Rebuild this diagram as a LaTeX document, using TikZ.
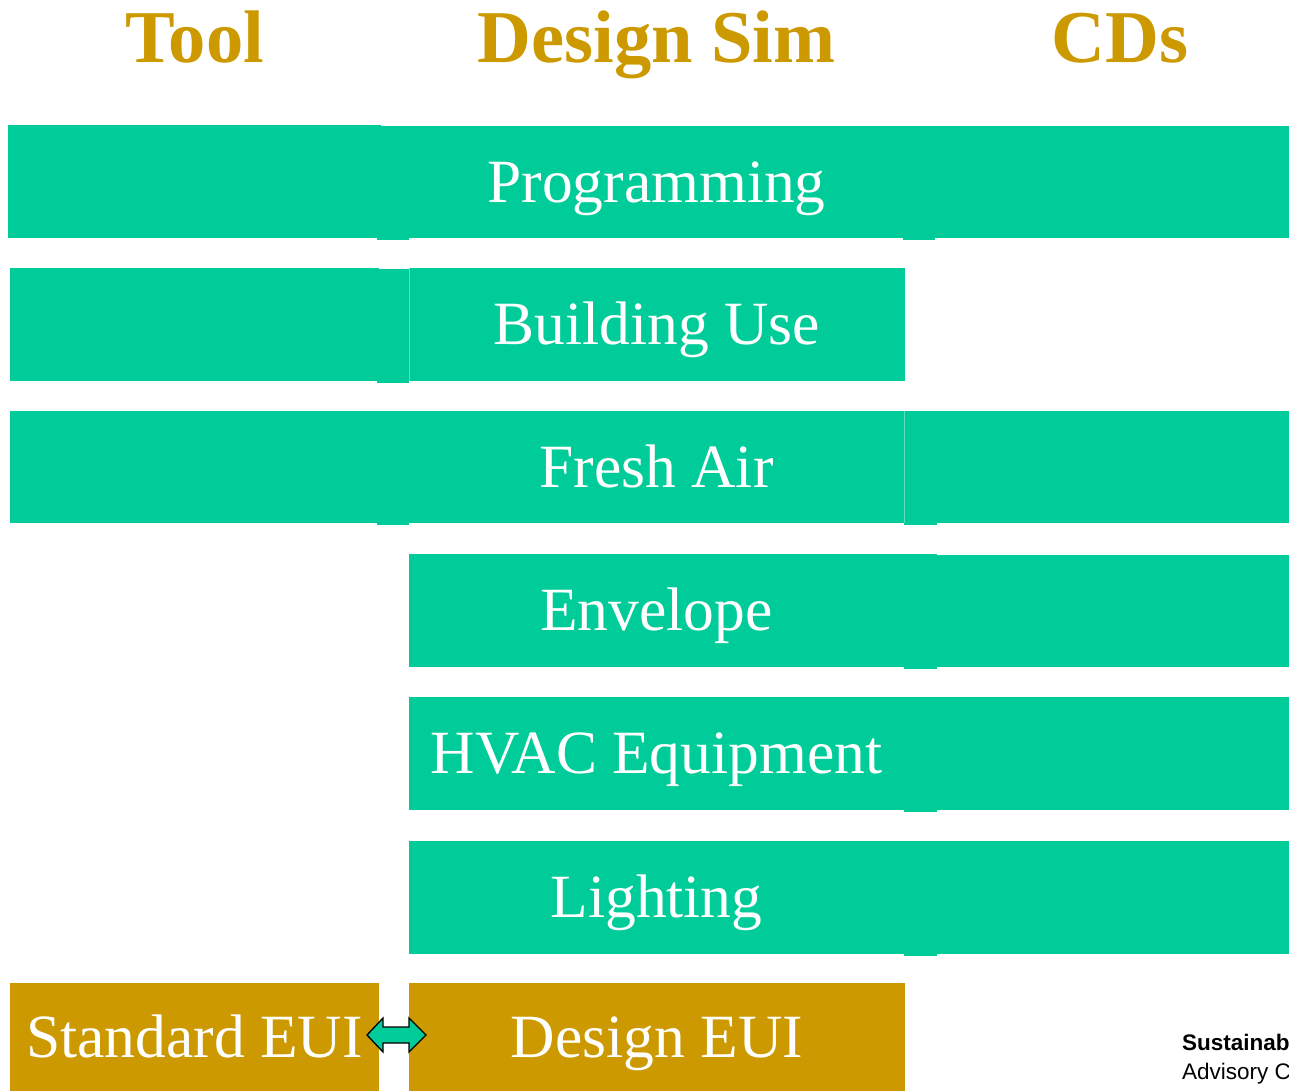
\documentclass[tikz,border=0pt]{standalone}
\usepackage{fontspec}
\setmainfont{Liberation Serif}
\newfontfamily\footfont{Liberation Sans}
\definecolor{boxgreen}{HTML}{00CC99}
\definecolor{boxgold}{HTML}{CC9900}
\definecolor{seamgreen}{HTML}{5FDDBC}
\tikzset{
  gbox/.style={fill=boxgreen, inner sep=0pt, outer sep=0pt, text=white,
    font=\fontsize{61.5}{61.5}\selectfont, text height=40pt, text depth=0pt},
  ybox/.style={gbox, fill=boxgold},
  head/.style={text=boxgold, font=\fontsize{74.5}{74.5}\selectfont\bfseries, anchor=base, inner sep=0pt},
  foot/.style={font=\footfont\fontsize{22.5}{22.5}\selectfont, anchor=base west, inner sep=0pt},
  dblarrow/.style={draw=black, line width=1.3pt, fill=boxgreen, line join=miter},
}
\newcommand{\bx}[7]{% style, name, x1, y1, x2, y2, text
  \node[#1, minimum width=#5pt-#3pt, minimum height=#6pt-#4pt] (#2) at ({(#3+#5)/2},{(#4+#6)/2}) {#7};}
\begin{document}
\begin{tikzpicture}[x=1pt,y=-1pt]
\useasboundingbox (0,0) rectangle (1289,1090);
\clip (0,0) rectangle (1289,1090);
% headers
\node[head] (hTool) at (195,62) {Tool};
\node[head] (hSim) at (656.5,62) {Design Sim};
\node[head] (hCD) at (1120,62) {CDs};
% row 1
\bx{gbox}{L1}{8}{125}{381}{238}{}
\bx{gbox}{P1a}{377}{126}{409}{240}{}
\bx{gbox}{P1b}{903}{126}{935}{240}{}
\bx{gbox}{R1}{935}{126}{1290}{238}{}
\bx{gbox}{C1}{409}{126}{904}{238}{Programming}
% row 2
\bx{gbox}{L2}{10}{268}{379}{381}{}
\bx{gbox}{P2}{377}{269}{409}{383}{}
\bx{gbox}{C2}{409}{268}{905}{381}{Building Use}
\draw[seamgreen, line width=1pt] (C2.north west) -- (C2.south west);
% row 3
\bx{gbox}{L3}{10}{411}{379}{523}{}
\bx{gbox}{P3a}{377}{411}{409}{525}{}
\bx{gbox}{P3b}{904}{411}{937}{525}{}
\bx{gbox}{R3}{937}{411}{1290}{523}{}
\bx{gbox}{C3}{409}{411}{904}{523}{Fresh Air}
\draw[seamgreen, line width=1pt] (C3.north east) -- (C3.south east);
% row 4
\bx{gbox}{P4}{904}{554}{937}{669}{}
\bx{gbox}{R4}{937}{555}{1290}{667}{}
\bx{gbox}{C4}{409}{554}{904}{667}{Envelope}
% row 5
\bx{gbox}{P5}{904}{697}{937}{812}{}
\bx{gbox}{R5}{937}{697}{1290}{810}{}
\bx{gbox}{C5}{409}{697}{904}{810}{HVAC Equipment}
% row 6
\bx{gbox}{P6}{904}{841}{937}{956}{}
\bx{gbox}{R6}{937}{841}{1290}{954}{}
\bx{gbox}{C6}{409}{841}{904}{954}{Lighting}
% row 7
\bx{ybox}{L7}{10}{983}{379}{1091}{Standard EUI}
\bx{ybox}{C7}{409}{983}{905}{1091}{Design EUI}
% double arrow between Standard EUI and Design EUI
\coordinate (arrc) at (396.5,1035);
\draw[dblarrow, shift={(arrc)}]
  (-29.5,0) -- (-13.5,-17) -- (-13.5,-8) -- (12.5,-8) -- (12.5,-17) -- (29.5,0)
  -- (12.5,17) -- (12.5,8) -- (-13.5,8) -- (-13.5,17) -- cycle;
% footer
\node[foot] (f1) at (1182,1050) {\bfseries Sustainab};
\node[foot] (f2) at (1182,1079) {Advisory C};
\end{tikzpicture}
\end{document}
